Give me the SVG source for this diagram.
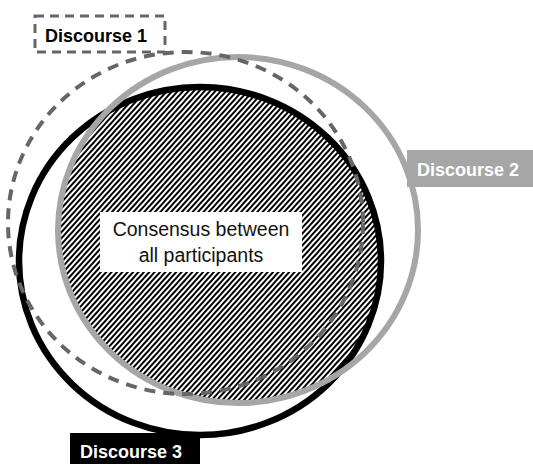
<svg xmlns="http://www.w3.org/2000/svg" width="533" height="464" viewBox="0 0 533 464">
  <style>
    .lbl { font-family: "Liberation Sans", Arial, sans-serif; font-weight: bold; font-size: 18px; }
    .ctr { font-family: "Liberation Sans", Arial, sans-serif; font-size: 19.5px; fill: #111; }
  </style>
  <defs>
    <pattern id="hatch" patternUnits="userSpaceOnUse" width="4" height="4" patternTransform="rotate(42)">
      <rect x="0" y="0" width="2" height="4" fill="#000"/>
    </pattern>
    <clipPath id="grayClip">
      <ellipse cx="238" cy="230" rx="180" ry="173"/>
    </clipPath>
  </defs>
  <rect width="533" height="464" fill="#fff"/>

  <g id="consensus">
    <ellipse cx="200" cy="261" rx="181" ry="174" fill="url(#hatch)" clip-path="url(#grayClip)"/>
  </g>

  <g id="connectors">
    <ellipse id="discourse3-ring" cx="200" cy="261" rx="181" ry="174" fill="none" stroke="#000" stroke-width="6.5"/>
    <ellipse id="discourse2-ring" cx="238" cy="230" rx="180" ry="173" fill="none" stroke="#a6a6a6" stroke-width="6"/>
    <ellipse id="discourse1-ring" cx="185.5" cy="223" rx="177.5" ry="171" fill="none" stroke="#666" stroke-width="4" stroke-dasharray="11 8"/>
  </g>

  <g id="consensus-label">
    <rect x="100" y="212" width="202" height="60" fill="#fff"/>
    <text class="ctr" x="201" y="236" text-anchor="middle">Consensus between</text>
    <text class="ctr" x="201" y="262" text-anchor="middle">all participants</text>
  </g>

  <g id="discourse1">
    <rect x="35" y="16" width="130" height="36" fill="#fff" stroke="#666" stroke-width="3" stroke-dasharray="9 6"/>
    <text class="lbl" x="45" y="42" fill="#000">Discourse 1</text>
  </g>

  <g id="discourse2">
    <rect x="407" y="150" width="126" height="37" fill="#a6a6a6"/>
    <text class="lbl" x="417" y="176" fill="#fff">Discourse 2</text>
  </g>

  <g id="discourse3">
    <rect x="70" y="433" width="130" height="31" fill="#000"/>
    <text class="lbl" x="80" y="458" fill="#fff">Discourse 3</text>
  </g>
</svg>
